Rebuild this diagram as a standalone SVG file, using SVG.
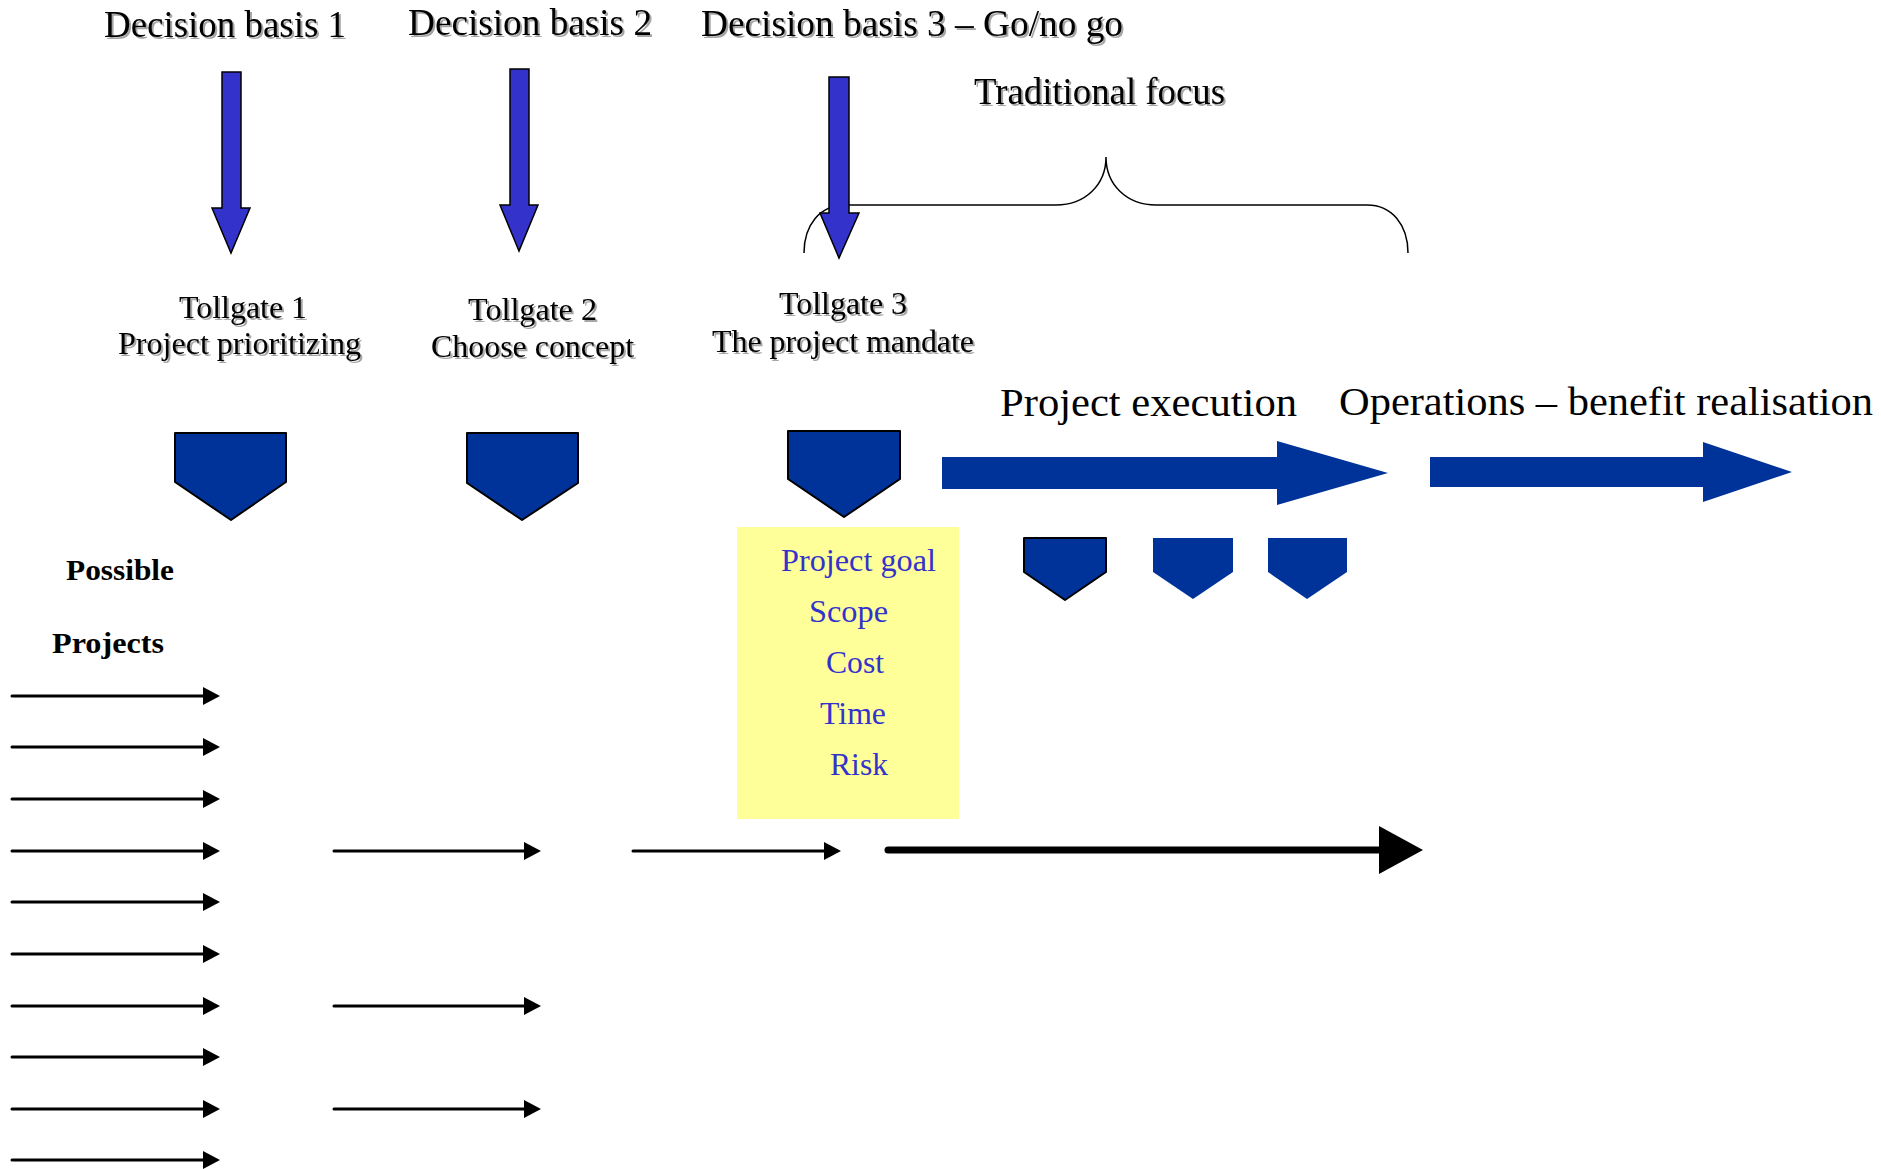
<svg xmlns="http://www.w3.org/2000/svg" width="1881" height="1169" viewBox="0 0 1881 1169">
<style>
text{font-family:"Liberation Serif","Times New Roman",serif;fill:#000}
.h{font-size:37px}
.tg{font-size:31px}
.big{font-size:40px}
.pp{font-size:30px;font-weight:bold}
.mand{font-size:31px;fill:#3333CC}
.sh{filter:url(#sh)}
.gate{fill:#003399;stroke:#000;stroke-width:2;stroke-linejoin:round}
.gate2{fill:#003399}
.down{fill:#3333CC;stroke:#000;stroke-width:1.5;stroke-linejoin:miter}
.flow{fill:#003399}
.thin{stroke:#000;stroke-width:3;fill:none;stroke-linecap:round}
.thick{stroke:#000;stroke-width:7;fill:none;stroke-linecap:round}
</style>
<defs>
<filter id="sh" x="-5%" y="-20%" width="115%" height="150%">
<feDropShadow dx="2" dy="2" stdDeviation="0.7" flood-color="#000" flood-opacity="0.35"/>
</filter>
<marker id="ah" markerUnits="userSpaceOnUse" viewBox="0 0 18 18" markerWidth="18" markerHeight="18" refX="0" refY="9" orient="auto">
<path d="M0,0 L17,9 L0,18 z" fill="#000"/>
</marker>
<marker id="ahb" markerUnits="userSpaceOnUse" viewBox="0 0 44 48" markerWidth="44" markerHeight="48" refX="0" refY="24" orient="auto">
<path d="M0,0 L44,24 L0,48 z" fill="#000"/>
</marker>
</defs>
<rect width="1881" height="1169" fill="#fff"/>

<g id="decision-basis-1">
<text class="h sh" x="104" y="37" textLength="242" lengthAdjust="spacingAndGlyphs">Decision basis 1</text>
<polygon class="down" points="222,72 241,72 241,208 250,208 231,253 212,208 222,208"/>
</g>
<g id="decision-basis-2">
<text class="h sh" x="408" y="35" textLength="244" lengthAdjust="spacingAndGlyphs">Decision basis 2</text>
<polygon class="down" points="510,69 529,69 529,205 538,205 519,251 500,205 510,205"/>
</g>

<g id="traditional-focus">
<text class="h sh" x="974" y="104" textLength="251" lengthAdjust="spacingAndGlyphs">Traditional focus</text>
<path d="M804,253 C804,225 820,205 845,205 L1056,205 C1085,205 1106,185 1106,157 C1106,185 1127,205 1156,205 L1367,205 C1392,205 1408,225 1408,253" fill="none" stroke="#000" stroke-width="1.5"/>
</g>

<g id="decision-basis-3">
<text class="h sh" x="701" y="36" textLength="422" lengthAdjust="spacingAndGlyphs">Decision basis 3 – Go/no go</text>
<polygon class="down" points="829,77 849,77 849,213 859,213 839,258 820,213 829,213"/>
</g>

<g id="tollgate-1">
<text class="tg sh" x="179" y="318" textLength="128" lengthAdjust="spacingAndGlyphs">Tollgate 1</text>
<text class="tg sh" x="118" y="354" textLength="243" lengthAdjust="spacingAndGlyphs">Project prioritizing</text>
<polygon class="gate" points="175,433 286,433 286,482 231,520 175,482"/>
</g>
<g id="tollgate-2">
<text class="tg sh" x="468" y="320" textLength="129" lengthAdjust="spacingAndGlyphs">Tollgate 2</text>
<text class="tg sh" x="431" y="357" textLength="203" lengthAdjust="spacingAndGlyphs">Choose concept</text>
<polygon class="gate" points="467,433 578,433 578,483 522,520 467,483"/>
</g>
<g id="tollgate-3">
<text class="tg sh" x="779" y="314" textLength="128" lengthAdjust="spacingAndGlyphs">Tollgate 3</text>
<text class="tg sh" x="712" y="352" textLength="262" lengthAdjust="spacingAndGlyphs">The project mandate</text>
<polygon class="gate" points="788,431 900,431 900,479 844,517 788,479"/>
</g>

<g id="mandate">
<rect x="737" y="527" width="222" height="292" fill="#FFFF99"/>
<text class="mand" x="781" y="571" textLength="155" lengthAdjust="spacingAndGlyphs">Project goal</text>
<text class="mand" x="809" y="622" textLength="79" lengthAdjust="spacingAndGlyphs">Scope</text>
<text class="mand" x="826" y="673" textLength="58" lengthAdjust="spacingAndGlyphs">Cost</text>
<text class="mand" x="820" y="724" textLength="66" lengthAdjust="spacingAndGlyphs">Time</text>
<text class="mand" x="830" y="775" textLength="58" lengthAdjust="spacingAndGlyphs">Risk</text>
</g>

<g id="project-execution">
<text class="big" x="1000" y="416" textLength="297" lengthAdjust="spacingAndGlyphs">Project execution</text>
<polygon class="flow" points="942,457 1277,457 1277,441 1388,473 1277,505 1277,489 942,489"/>
</g>
<g id="operations">
<text class="big" x="1339" y="415" textLength="534" lengthAdjust="spacingAndGlyphs">Operations – benefit realisation</text>
<polygon class="flow" points="1430,457 1703,457 1703,442 1792,472 1703,502 1703,487 1430,487"/>
</g>

<g id="execution-gate-1"><polygon class="gate" points="1024,538 1106,538 1106,572 1065,600 1024,572"/></g>
<g id="execution-gate-2"><polygon class="gate2" points="1153,538 1233,538 1233,572 1193,599 1153,572"/></g>
<g id="execution-gate-3"><polygon class="gate2" points="1268,538 1347,538 1347,572 1307,599 1268,572"/></g>

<g id="possible-projects">
<text class="pp" x="66" y="580" textLength="108" lengthAdjust="spacingAndGlyphs">Possible</text>
<text class="pp" x="52" y="653" textLength="112" lengthAdjust="spacingAndGlyphs">Projects</text>
</g>

<g id="connectors">
<line class="thin" x1="12" y1="696" x2="203" y2="696" marker-end="url(#ah)"/>
<line class="thin" x1="12" y1="747" x2="203" y2="747" marker-end="url(#ah)"/>
<line class="thin" x1="12" y1="799" x2="203" y2="799" marker-end="url(#ah)"/>
<line class="thin" x1="12" y1="851" x2="203" y2="851" marker-end="url(#ah)"/>
<line class="thin" x1="12" y1="902" x2="203" y2="902" marker-end="url(#ah)"/>
<line class="thin" x1="12" y1="954" x2="203" y2="954" marker-end="url(#ah)"/>
<line class="thin" x1="12" y1="1006" x2="203" y2="1006" marker-end="url(#ah)"/>
<line class="thin" x1="12" y1="1057" x2="203" y2="1057" marker-end="url(#ah)"/>
<line class="thin" x1="12" y1="1109" x2="203" y2="1109" marker-end="url(#ah)"/>
<line class="thin" x1="12" y1="1160" x2="203" y2="1160" marker-end="url(#ah)"/>
<line class="thin" x1="334" y1="851" x2="524" y2="851" marker-end="url(#ah)"/>
<line class="thin" x1="334" y1="1006" x2="524" y2="1006" marker-end="url(#ah)"/>
<line class="thin" x1="334" y1="1109" x2="524" y2="1109" marker-end="url(#ah)"/>
<line class="thin" x1="633" y1="851" x2="824" y2="851" marker-end="url(#ah)"/>
<line class="thick" x1="888" y1="850" x2="1379" y2="850" marker-end="url(#ahb)"/>
</g>
</svg>
